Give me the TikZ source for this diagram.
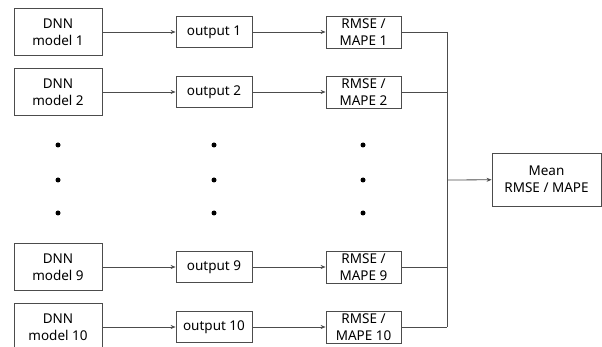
\documentclass[tikz,border=0pt]{standalone}
\usepackage{fontspec}
\setmainfont{Noto Sans}
\usetikzlibrary{arrows.meta}
\tikzset{
  box/.style={draw=black!70, line width=0.8pt, inner sep=0pt, align=center,
    font=\fontsize{13.5}{17}\selectfont},
  link/.style={draw=black!70, line width=0.8pt},
  arr/.style={link, -{Stealth[length=5pt,width=4pt]}}
}
\begin{document}
\begin{tikzpicture}[x=1pt, y=-1pt]
  \useasboundingbox (0,0) rectangle (602,347);
  % Bus coordinates
  \coordinate (bustop) at (447,32);
  \coordinate (busbot) at (447,327);
  \coordinate (busmid) at (447,180);
  % Rows: model -> output -> error
  \foreach \i/\y in {1/32, 2/92, 9/267, 10/327}{
    \node[box, minimum width=88pt, minimum height=47pt] (dnn\i) at (58,\y) {DNN\\model \i};
    \node[box, minimum width=76pt, minimum height=31pt] (out\i) at (214,\y) {output \i};
    \node[box, minimum width=75pt, minimum height=32pt] (err\i) at (363.5,\y) {RMSE /\\MAPE \i};
    \draw[arr] (dnn\i) -- (out\i);
    \draw[arr] (out\i) -- (err\i);
    \draw[link] (err\i.east) -- (err\i.east -| busmid);
  }
  % Ellipsis dots
  \foreach \x in {58, 214, 363}{
    \foreach \y in {145, 180, 213}{
      \fill (\x,\y) circle (2.5pt);
    }
  }
  % Collect and average
  \draw[link] (bustop) -- (busbot);
  \node[box, minimum width=109pt, minimum height=53pt] (mean) at (546.5,179.5) {Mean\\RMSE / MAPE};
  \draw[arr] (busmid) -- (mean);
\end{tikzpicture}
\end{document}
